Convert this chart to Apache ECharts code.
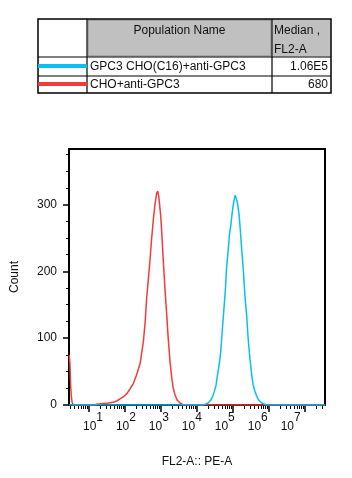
<!DOCTYPE html>
<html>
<head>
<meta charset="utf-8">
<script src="https://cdn.jsdelivr.net/npm/echarts@6/dist/echarts.min.js"></script>
<style>
  html, body { margin: 0; padding: 0; background: #fff; }
  #main { width: 352px; height: 478px; }
</style>
</head>
<body>
<div id="main"></div>
<script>
// table content
var populations = ["GPC3 CHO(C16)+anti-GPC3", "CHO+anti-GPC3"];
var medians = ["1.06E5", "680"];
var lineColors = ["#08c0f2", "#f53a3a"];

// histogram, x in log10(FL2-A)
var redX = [0.45, 0.47, 0.49, 0.51, 0.53, 0.56, 1.15, 1.21, 1.54, 1.68, 1.77, 1.86, 1.95, 2.05, 2.14, 2.23, 2.32,
  2.42, 2.46, 2.51, 2.56, 2.60, 2.65, 2.69, 2.74, 2.79, 2.83, 2.88, 2.91, 2.94, 2.99, 3.02, 3.06, 3.11,
  3.16, 3.20, 3.25, 3.30, 3.34, 3.39, 3.45, 3.53, 3.62, 7.56];
var redY = [75, 62, 28, 12, 4, 0, 0, 1, 3, 4, 6, 9, 12, 17, 24, 32, 45,
  62, 77, 95, 124, 159, 189, 214, 249, 279, 299, 317, 320, 311, 284, 259, 219, 174,
  134, 100, 65, 40, 25, 15, 7, 3, 0, 0];
var blueX = [0.44, 4.15, 4.22, 4.31, 4.38, 4.43, 4.48, 4.53, 4.57, 4.62, 4.66, 4.70, 4.75, 4.79, 4.82, 4.87,
  4.90, 4.94, 4.98, 5.02, 5.06, 5.08, 5.12, 5.17, 5.20, 5.24, 5.29, 5.33, 5.38, 5.42, 5.47, 5.52,
  5.56, 5.61, 5.66, 5.72, 5.80, 5.89, 5.95, 7.56];
var blueY = [0, 0, 1, 3, 7, 12, 20, 30, 45, 62, 80, 110, 145, 174, 204, 234,
  254, 269, 289, 304, 314, 316, 304, 284, 264, 234, 199, 164, 134, 100, 70, 45,
  30, 20, 13, 7, 3, 1, 0, 0];

// axis ticks
var xDecades = [1, 2, 3, 4, 5, 6, 7];
var yMajor = [0, 100, 200, 300];
var yMinor = [25, 50, 75, 125, 150, 175, 225, 250, 275, 325, 350, 375];

function zip(xs, ys) {
  return xs.map(function (x, i) { return [x, ys[i]]; });
}

var xMin = 0.444, xMax = 7.556;
var xMinor = [];
for (var d = 0; d <= 7; d++) {
  for (var k = 2; k <= 9; k++) {
    var v = d + Math.log10(k);
    if (v > xMin && v < xMax) xMinor.push(v);
  }
}

var font = "Liberation Sans, Arial, sans-serif";
var chart = echarts.init(document.getElementById("main"), null, { renderer: "canvas" });

// table graphic
var tbl = [];
var tx = [38, 87, 272, 331];
var ty = [19, 57, 76, 93];
tbl.push({ type: "rect", shape: { x: tx[1] + 1, y: ty[0] + 1, width: tx[2] - tx[1] - 2, height: ty[1] - ty[0] - 2 },
  style: { fill: "#c0c0c0", stroke: "#8a8a8a", lineWidth: 1 } });
tbl.push({ type: "rect", shape: { x: tx[2] + 1, y: ty[0] + 1, width: tx[3] - tx[2] - 2, height: ty[1] - ty[0] - 2 },
  style: { fill: "#c0c0c0", stroke: "#c0c0c0", lineWidth: 1 } });
tbl.push({ type: "rect", shape: { x: tx[0], y: ty[0], width: tx[3] - tx[0], height: ty[3] - ty[0] },
  style: { fill: null, stroke: "#000", lineWidth: 1.5 } });
[1, 2].forEach(function (i) {
  tbl.push({ type: "line", shape: { x1: tx[i], y1: ty[0], x2: tx[i], y2: ty[3] }, style: { stroke: "#000", lineWidth: 1.2 } });
  tbl.push({ type: "line", shape: { x1: tx[0], y1: ty[i], x2: tx[3], y2: ty[i] }, style: { stroke: "#000", lineWidth: 1.2 } });
});
tbl.push({ type: "text", x: (tx[1] + tx[2]) / 2, y: 31,
  style: { text: "Population Name", font: "12px " + font, fill: "#111", align: "center", verticalAlign: "middle" } });
tbl.push({ type: "text", x: tx[2] + 2, y: 31,
  style: { text: "Median ,", font: "12px " + font, fill: "#111", align: "left", verticalAlign: "middle" } });
tbl.push({ type: "text", x: tx[2] + 2, y: 50,
  style: { text: "FL2-A", font: "12px " + font, fill: "#111", align: "left", verticalAlign: "middle" } });
populations.forEach(function (p, i) {
  var cy = (ty[i + 1] + ty[i + 2]) / 2;
  tbl.push({ type: "line", shape: { x1: tx[0], y1: cy - 0.5, x2: tx[1], y2: cy - 0.5 },
    style: { stroke: lineColors[i], lineWidth: 4 } });
  tbl.push({ type: "text", x: tx[1] + 3, y: cy,
    style: { text: p, font: "12px " + font, fill: "#111", align: "left", verticalAlign: "middle" } });
  tbl.push({ type: "text", x: tx[3] - 3, y: cy,
    style: { text: medians[i], font: "12px " + font, fill: "#111", align: "right", verticalAlign: "middle" } });
});

chart.setOption({
  animation: false,
  textStyle: { fontFamily: font },
  grid: { left: 69, right: 27, top: 149, bottom: 73, show: true, borderColor: "#000", borderWidth: 2 },
  graphic: tbl,
  xAxis: [
    {
      type: "value", position: "bottom", min: xMin, max: xMax,
      name: "FL2-A:: PE-A", nameLocation: "middle", nameGap: 51,
      nameTextStyle: { fontSize: 12, color: "#111" },
      axisLine: { lineStyle: { color: "#000", width: 2 } },
      axisTick: { customValues: xDecades, length: 7, lineStyle: { color: "#000", width: 1.5 } },
      axisLabel: { show: false },
      splitLine: { show: false }
    },
    {
      type: "value", position: "bottom", min: xMin, max: xMax,
      axisLine: { show: false },
      axisTick: { customValues: xMinor, length: 4, lineStyle: { color: "#000", width: 1 } },
      axisLabel: { show: false },
      splitLine: { show: false }
    },
    {
      type: "value", position: "bottom", min: 0.379, max: 8.148,
      axisLine: { show: false },
      axisTick: { show: false },
      splitLine: { show: false },
      axisLabel: {
        customValues: xDecades, margin: 7, color: "#111",
        formatter: function (v) { return "{b|10}{e|" + Math.round(v) + "}"; },
        rich: {
          b: { fontSize: 12, fontFamily: font, color: "#111", padding: [9, 0, 0, 7], verticalAlign: "bottom" },
          e: { fontSize: 12, fontFamily: font, color: "#111", verticalAlign: "top" }
        }
      }
    }
  ],
  yAxis: [
    {
      type: "value", position: "left", min: 0, max: 383,
      name: "Count", nameLocation: "middle", nameGap: 48,
      nameTextStyle: { fontSize: 12, color: "#111" },
      axisLine: { show: true, lineStyle: { color: "#000", width: 2 } },
      axisTick: { show: true, customValues: yMajor, length: 6, lineStyle: { color: "#000", width: 1.5 } },
      axisLabel: { customValues: yMajor, margin: 12, fontSize: 12, color: "#111" },
      splitLine: { show: false }
    },
    {
      type: "value", position: "left", min: 0, max: 383,
      axisLine: { show: false },
      axisTick: { show: true, customValues: yMinor, length: 3, lineStyle: { color: "#000", width: 1 } },
      axisLabel: { show: false },
      splitLine: { show: false }
    }
  ],
  series: [
    {
      name: populations[1], type: "line", data: zip(redX, redY), showSymbol: false,
      lineStyle: { color: lineColors[1], width: 1.5 }, z: 2
    },
    {
      name: populations[0], type: "line", data: zip(blueX, blueY), showSymbol: false,
      lineStyle: { color: lineColors[0], width: 1.5 }, z: 3
    }
  ]
});
</script>
</body>
</html>
